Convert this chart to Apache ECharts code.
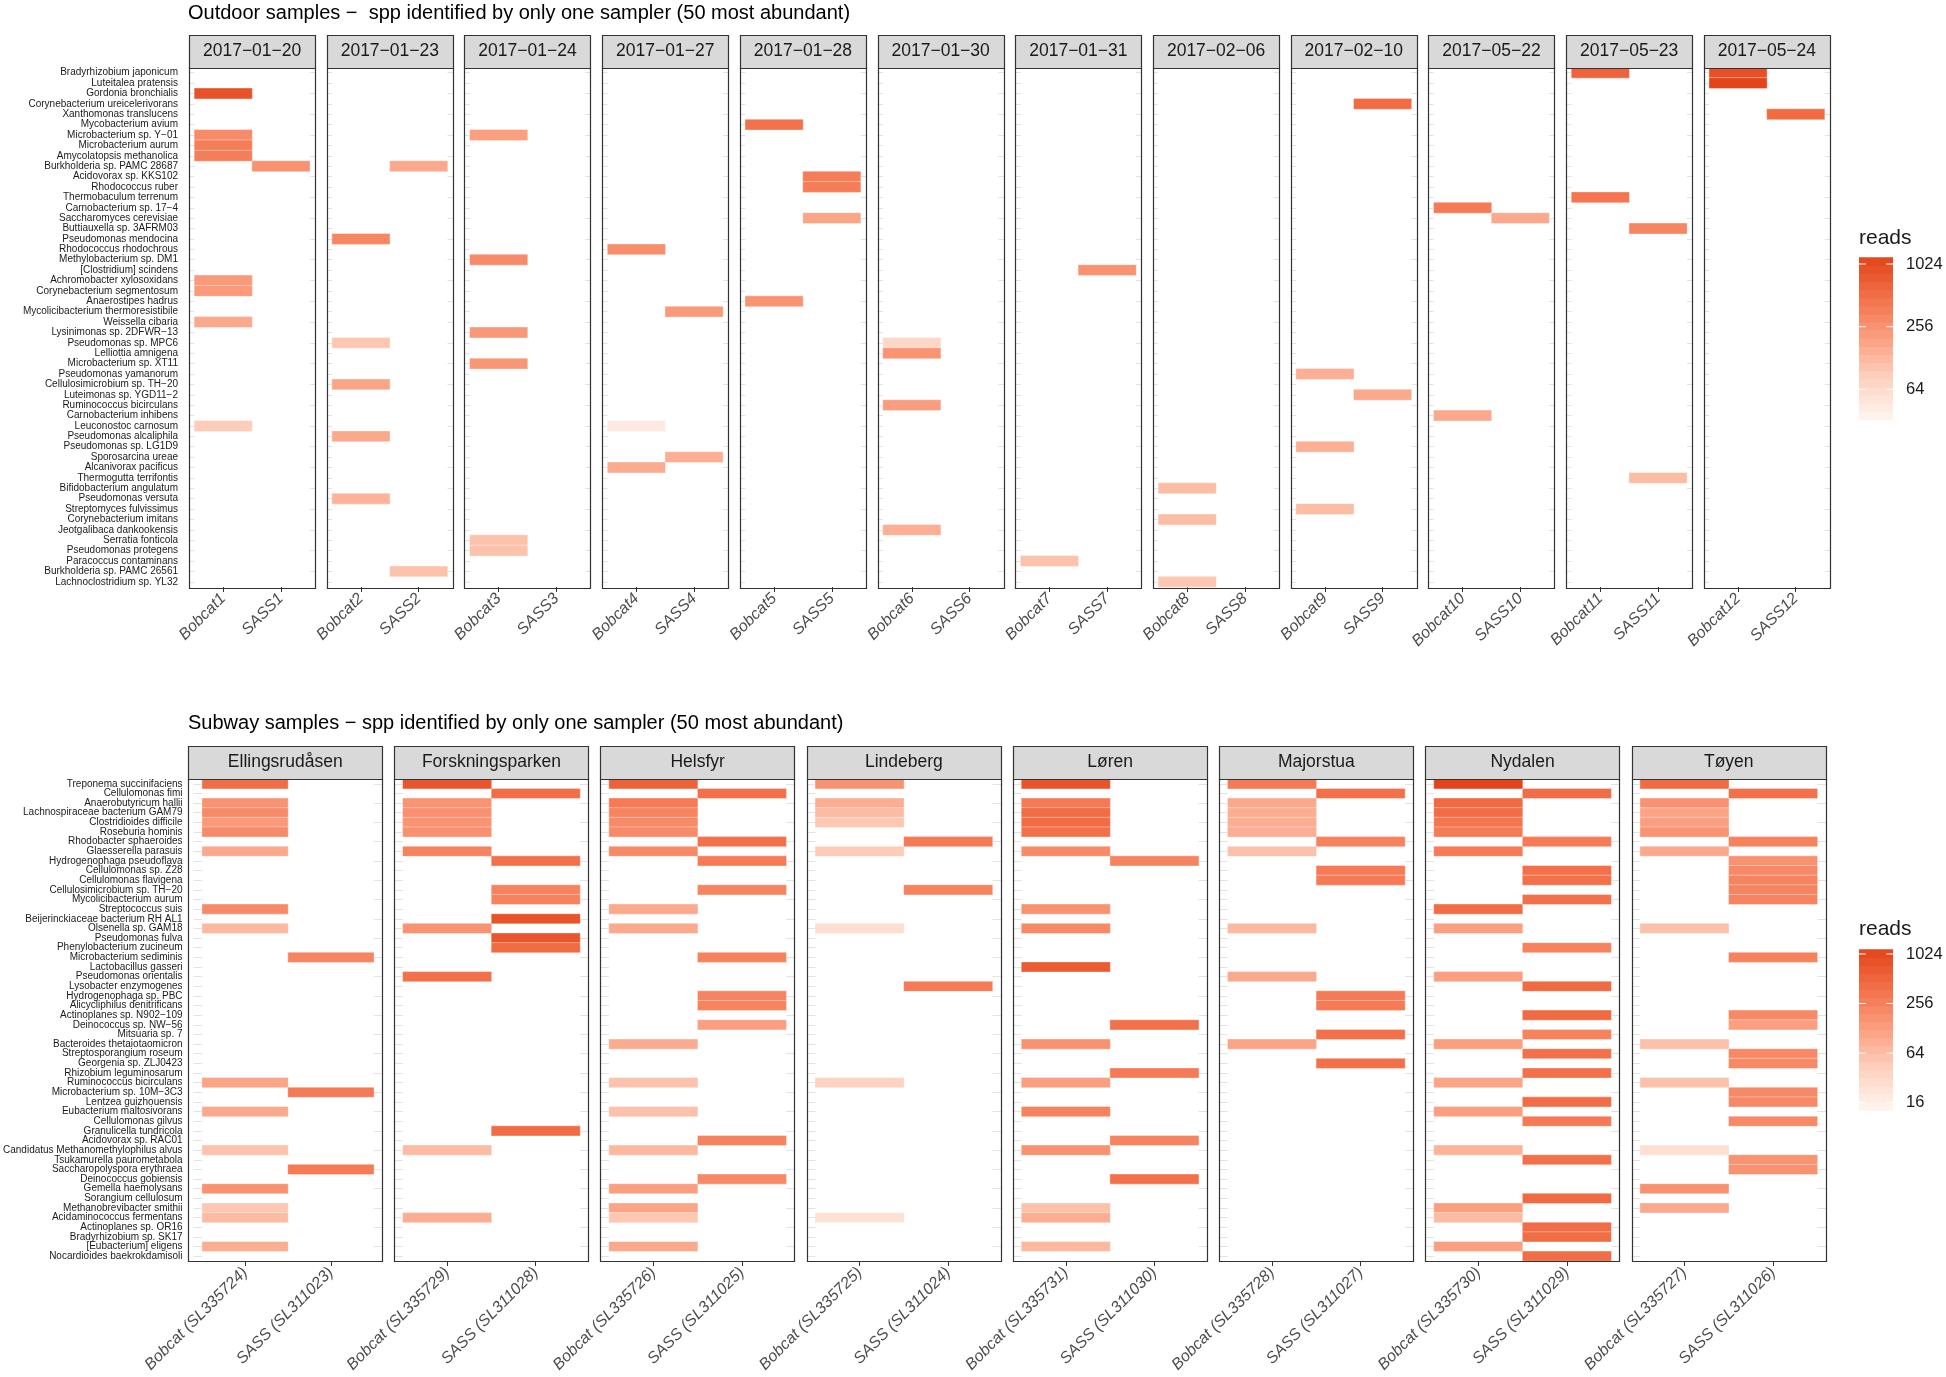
<!DOCTYPE html>
<html><head><meta charset="utf-8">
<script src="https://cdn.jsdelivr.net/npm/echarts@6/dist/echarts.min.js"></script>
<style>html,body{margin:0;padding:0;background:#fff}#c{width:1946px;height:1377px}</style>
</head><body><div id="c"></div>
<script>
// ---------------- DATA ----------------
const outdoorTitle = 'Outdoor samples \u2212  spp identified by only one sampler (50 most abundant)';
const subwayTitle = 'Subway samples \u2212 spp identified by only one sampler (50 most abundant)';

const outdoorSpecies = ['Bradyrhizobium japonicum','Luteitalea pratensis','Gordonia bronchialis','Corynebacterium ureicelerivorans','Xanthomonas translucens','Mycobacterium avium','Microbacterium sp. Y\u221201','Microbacterium aurum','Amycolatopsis methanolica','Burkholderia sp. PAMC 28687','Acidovorax sp. KKS102','Rhodococcus ruber','Thermobaculum terrenum','Carnobacterium sp. 17\u22124','Saccharomyces cerevisiae','Buttiauxella sp. 3AFRM03','Pseudomonas mendocina','Rhodococcus rhodochrous','Methylobacterium sp. DM1','[Clostridium] scindens','Achromobacter xylosoxidans','Corynebacterium segmentosum','Anaerostipes hadrus','Mycolicibacterium thermoresistibile','Weissella cibaria','Lysinimonas sp. 2DFWR\u221213','Pseudomonas sp. MPC6','Lelliottia amnigena','Microbacterium sp. XT11','Pseudomonas yamanorum','Cellulosimicrobium sp. TH\u221220','Luteimonas sp. YGD11\u22122','Ruminococcus bicirculans','Carnobacterium inhibens','Leuconostoc carnosum','Pseudomonas alcaliphila','Pseudomonas sp. LG1D9','Sporosarcina ureae','Alcanivorax pacificus','Thermogutta terrifontis','Bifidobacterium angulatum','Pseudomonas versuta','Streptomyces fulvissimus','Corynebacterium imitans','Jeotgalibaca dankookensis','Serratia fonticola','Pseudomonas protegens','Paracoccus contaminans','Burkholderia sp. PAMC 26561','Lachnoclostridium sp. YL32'];

const outdoorDates = ['2017\u221201\u221220','2017\u221201\u221223','2017\u221201\u221224','2017\u221201\u221227','2017\u221201\u221228','2017\u221201\u221230','2017\u221201\u221231','2017\u221202\u221206','2017\u221202\u221210','2017\u221205\u221222','2017\u221205\u221223','2017\u221205\u221224'];
const outdoorBobcatLabels = ['Bobcat1','Bobcat2','Bobcat3','Bobcat4','Bobcat5','Bobcat6','Bobcat7','Bobcat8','Bobcat9','Bobcat10','Bobcat11','Bobcat12'];
const outdoorSassLabels = ['SASS1','SASS2','SASS3','SASS4','SASS5','SASS6','SASS7','SASS8','SASS9','SASS10','SASS11','SASS12'];

const outdoorBobcatReads = [
  [['Gordonia bronchialis',900],['Microbacterium sp. Y\u221201',300],['Microbacterium aurum',380],['Amycolatopsis methanolica',380],['Achromobacter xylosoxidans',220],['Corynebacterium segmentosum',220],['Weissella cibaria',170],['Leuconostoc carnosum',90]],
  [['Pseudomonas mendocina',320],['Pseudomonas sp. MPC6',100],['Cellulosimicrobium sp. TH\u221220',180],['Pseudomonas alcaliphila',170],['Pseudomonas versuta',140]],
  [['Microbacterium sp. Y\u221201',200],['Methylobacterium sp. DM1',300],['Lysinimonas sp. 2DFWR\u221213',230],['Microbacterium sp. XT11',240],['Serratia fonticola',110],['Pseudomonas protegens',110]],
  [['Rhodococcus rhodochrous',280],['Leuconostoc carnosum',45],['Alcanivorax pacificus',160]],
  [['Mycobacterium avium',480],['Anaerostipes hadrus',250]],
  [['Pseudomonas sp. MPC6',70],['Lelliottia amnigena',250],['Ruminococcus bicirculans',210],['Jeotgalibaca dankookensis',150]],
  [['Paracoccus contaminans',110]],
  [['Bifidobacterium angulatum',120],['Corynebacterium imitans',120],['Lachnoclostridium sp. YL32',100]],
  [['Pseudomonas yamanorum',150],['Pseudomonas sp. LG1D9',150],['Streptomyces fulvissimus',120]],
  [['Carnobacterium sp. 17\u22124',400],['Carnobacterium inhibens',170]],
  [['Bradyrhizobium japonicum',650],['Thermobaculum terrenum',450]],
  [['Bradyrhizobium japonicum',950],['Luteitalea pratensis',1188]]
];
const outdoorSassReads = [
  [['Burkholderia sp. PAMC 28687',260]],
  [['Burkholderia sp. PAMC 28687',170],['Burkholderia sp. PAMC 26561',110]],
  [],
  [['Mycolicibacterium thermoresistibile',220],['Sporosarcina ureae',150]],
  [['Acidovorax sp. KKS102',380],['Rhodococcus ruber',380],['Saccharomyces cerevisiae',180]],
  [],
  [['[Clostridium] scindens',260]],
  [],
  [['Corynebacterium ureicelerivorans',550],['Luteimonas sp. YGD11\u22122',170]],
  [['Saccharomyces cerevisiae',170]],
  [['Buttiauxella sp. 3AFRM03',330],['Thermogutta terrifontis',120]],
  [['Xanthomonas translucens',550]]
];
const outdoorReadsRange = [33, 1188];
const outdoorLegendBreaks = [64, 256, 1024];

const subwaySpecies = ['Treponema succinifaciens','Cellulomonas fimi','Anaerobutyricum hallii','Lachnospiraceae bacterium GAM79','Clostridioides difficile','Roseburia hominis','Rhodobacter sphaeroides','Glaesserella parasuis','Hydrogenophaga pseudoflava','Cellulomonas sp. Z28','Cellulomonas flavigena','Cellulosimicrobium sp. TH\u221220','Mycolicibacterium aurum','Streptococcus suis','Beijerinckiaceae bacterium RH AL1','Olsenella sp. GAM18','Pseudomonas fulva','Phenylobacterium zucineum','Microbacterium sediminis','Lactobacillus gasseri','Pseudomonas orientalis','Lysobacter enzymogenes','Hydrogenophaga sp. PBC','Alicycliphilus denitrificans','Actinoplanes sp. N902\u2212109','Deinococcus sp. NW\u221256','Mitsuaria sp. 7','Bacteroides thetaiotaomicron','Streptosporangium roseum','Georgenia sp. ZLJ0423','Rhizobium leguminosarum','Ruminococcus bicirculans','Microbacterium sp. 10M\u22123C3','Lentzea guizhouensis','Eubacterium maltosivorans','Cellulomonas gilvus','Granulicella tundricola','Acidovorax sp. RAC01','Candidatus Methanomethylophilus alvus','Tsukamurella paurometabola','Saccharopolyspora erythraea','Deinococcus gobiensis','Gemella haemolysans','Sorangium cellulosum','Methanobrevibacter smithii','Acidaminococcus fermentans','Actinoplanes sp. OR16','Bradyrhizobium sp. SK17','[Eubacterium] eligens','Nocardioides baekrokdamisoli'];

const subwayStations = ['Ellingsrud\u00e5sen','Forskningsparken','Helsfyr','Lindeberg','L\u00f8ren','Majorstua','Nydalen','T\u00f8yen'];
const subwayBobcatLabels = ['Bobcat (SL335724)','Bobcat (SL335729)','Bobcat (SL335726)','Bobcat (SL335725)','Bobcat (SL335731)','Bobcat (SL335728)','Bobcat (SL335730)','Bobcat (SL335727)'];
const subwaySassLabels = ['SASS (SL311023)','SASS (SL311028)','SASS (SL311025)','SASS (SL311024)','SASS (SL311030)','SASS (SL311027)','SASS (SL311029)','SASS (SL311026)'];

const subwayBobcatReads = [
  [['Treponema succinifaciens',420],['Anaerobutyricum hallii',168],['Lachnospiraceae bacterium GAM79',208],['Clostridioides difficile',142],['Roseburia hominis',208],['Glaesserella parasuis',101],['Streptococcus suis',208],['Olsenella sp. GAM18',72],['Ruminococcus bicirculans',113],['Eubacterium maltosivorans',101],['Candidatus Methanomethylophilus alvus',58],['Gemella haemolysans',172],['Methanobrevibacter smithii',52],['Acidaminococcus fermentans',68],['[Eubacterium] eligens',90]],
  [['Treponema succinifaciens',765],['Anaerobutyricum hallii',170],['Lachnospiraceae bacterium GAM79',180],['Clostridioides difficile',170],['Roseburia hominis',180],['Glaesserella parasuis',250],['Olsenella sp. GAM18',168],['Pseudomonas orientalis',380],['Candidatus Methanomethylophilus alvus',68],['Acidaminococcus fermentans',90]],
  [['Treponema succinifaciens',560],['Anaerobutyricum hallii',300],['Lachnospiraceae bacterium GAM79',240],['Clostridioides difficile',210],['Roseburia hominis',210],['Glaesserella parasuis',210],['Streptococcus suis',100],['Olsenella sp. GAM18',100],['Bacteroides thetaiotaomicron',95],['Ruminococcus bicirculans',58],['Eubacterium maltosivorans',60],['Candidatus Methanomethylophilus alvus',72],['Gemella haemolysans',125],['Methanobrevibacter smithii',113],['Acidaminococcus fermentans',52],['[Eubacterium] eligens',100]],
  [['Treponema succinifaciens',172],['Anaerobutyricum hallii',90],['Lachnospiraceae bacterium GAM79',68],['Clostridioides difficile',52],['Glaesserella parasuis',48],['Olsenella sp. GAM18',28],['Ruminococcus bicirculans',40],['Acidaminococcus fermentans',25]],
  [['Treponema succinifaciens',820],['Anaerobutyricum hallii',300],['Lachnospiraceae bacterium GAM79',430],['Clostridioides difficile',430],['Roseburia hominis',380],['Glaesserella parasuis',210],['Streptococcus suis',172],['Olsenella sp. GAM18',215],['Lactobacillus gasseri',640],['Bacteroides thetaiotaomicron',172],['Ruminococcus bicirculans',125],['Eubacterium maltosivorans',253],['Candidatus Methanomethylophilus alvus',172],['Methanobrevibacter smithii',60],['Acidaminococcus fermentans',90],['[Eubacterium] eligens',72]],
  [['Treponema succinifaciens',300],['Anaerobutyricum hallii',100],['Lachnospiraceae bacterium GAM79',90],['Clostridioides difficile',90],['Roseburia hominis',90],['Glaesserella parasuis',60],['Olsenella sp. GAM18',72],['Pseudomonas orientalis',100],['Bacteroides thetaiotaomicron',113]],
  [['Treponema succinifaciens',1167],['Anaerobutyricum hallii',450],['Lachnospiraceae bacterium GAM79',420],['Clostridioides difficile',350],['Roseburia hominis',300],['Glaesserella parasuis',300],['Streptococcus suis',420],['Olsenella sp. GAM18',125],['Pseudomonas orientalis',125],['Bacteroides thetaiotaomicron',125],['Ruminococcus bicirculans',113],['Eubacterium maltosivorans',125],['Candidatus Methanomethylophilus alvus',80],['Methanobrevibacter smithii',125],['Acidaminococcus fermentans',68],['[Eubacterium] eligens',125]],
  [['Treponema succinifaciens',450],['Anaerobutyricum hallii',172],['Lachnospiraceae bacterium GAM79',113],['Clostridioides difficile',125],['Roseburia hominis',168],['Glaesserella parasuis',100],['Olsenella sp. GAM18',60],['Bacteroides thetaiotaomicron',60],['Ruminococcus bicirculans',60],['Candidatus Methanomethylophilus alvus',27],['Gemella haemolysans',172],['Methanobrevibacter smithii',100]]
];
const subwaySassReads = [
  [['Microbacterium sediminis',235],['Microbacterium sp. 10M\u22123C3',300],['Saccharopolyspora erythraea',300]],
  [['Cellulomonas fimi',410],['Hydrogenophaga pseudoflava',380],['Cellulosimicrobium sp. TH\u221220',253],['Mycolicibacterium aurum',253],['Beijerinckiaceae bacterium RH AL1',800],['Pseudomonas fulva',750],['Phenylobacterium zucineum',440],['Granulicella tundricola',430]],
  [['Cellulomonas fimi',380],['Rhodobacter sphaeroides',380],['Hydrogenophaga pseudoflava',300],['Cellulosimicrobium sp. TH\u221220',240],['Microbacterium sediminis',253],['Hydrogenophaga sp. PBC',240],['Alicycliphilus denitrificans',240],['Deinococcus sp. NW\u221256',125],['Acidovorax sp. RAC01',250],['Deinococcus gobiensis',215]],
  [['Rhodobacter sphaeroides',310],['Cellulosimicrobium sp. TH\u221220',253],['Lysobacter enzymogenes',300]],
  [['Hydrogenophaga pseudoflava',240],['Deinococcus sp. NW\u221256',380],['Rhizobium leguminosarum',300],['Acidovorax sp. RAC01',240],['Deinococcus gobiensis',380]],
  [['Cellulomonas fimi',380],['Rhodobacter sphaeroides',253],['Cellulomonas sp. Z28',300],['Cellulomonas flavigena',300],['Hydrogenophaga sp. PBC',300],['Alicycliphilus denitrificans',300],['Mitsuaria sp. 7',380],['Georgenia sp. ZLJ0423',380]],
  [['Cellulomonas fimi',420],['Rhodobacter sphaeroides',300],['Cellulomonas sp. Z28',380],['Cellulomonas flavigena',380],['Mycolicibacterium aurum',380],['Phenylobacterium zucineum',253],['Lysobacter enzymogenes',450],['Actinoplanes sp. N902\u2212109',450],['Mitsuaria sp. 7',253],['Streptosporangium roseum',380],['Rhizobium leguminosarum',380],['Lentzea guizhouensis',420],['Cellulomonas gilvus',300],['Tsukamurella paurometabola',380],['Sorangium cellulosum',450],['Actinoplanes sp. OR16',420],['Bradyrhizobium sp. SK17',420],['Nocardioides baekrokdamisoli',420]],
  [['Cellulomonas fimi',380],['Rhodobacter sphaeroides',253],['Hydrogenophaga pseudoflava',172],['Cellulomonas sp. Z28',215],['Cellulomonas flavigena',240],['Cellulosimicrobium sp. TH\u221220',240],['Mycolicibacterium aurum',240],['Microbacterium sediminis',253],['Actinoplanes sp. N902\u2212109',215],['Deinococcus sp. NW\u221256',125],['Streptosporangium roseum',215],['Georgenia sp. ZLJ0423',215],['Microbacterium sp. 10M\u22123C3',215],['Lentzea guizhouensis',215],['Cellulomonas gilvus',215],['Tsukamurella paurometabola',172],['Saccharopolyspora erythraea',172]]
];
const subwayReadsRange = [13, 1167];
const subwayLegendBreaks = [16, 64, 256, 1024];

// ---------------- STYLE / LAYOUT ----------------
const FONT = '"Liberation Sans", Arial, Helvetica, sans-serif';
const RAMP = ['#FFF5F0', '#FDD3C1', '#FBA081', '#F3714A', '#E3441A'];
const TOP = {left:189, right:1830, gap:11.5, plotTop:67.5, plotBottom:587, stripH:33, pad:5.4};
const BOT = {left:188, right:1826, gap:11.8, plotTop:779, plotBottom:1261, stripH:33, pad:8.6};

function hexRgb(h){return [1,3,5].map(i=>parseInt(h.slice(i,i+2),16));}
function colorAt(t){
  const s=Math.max(0,Math.min(1,t))*(RAMP.length-1), i=Math.min(RAMP.length-2,Math.floor(s)), f=s-i;
  const a=hexRgb(RAMP[i]), b=hexRgb(RAMP[i+1]);
  return '#'+a.map((v,j)=>Math.round(v+(b[j]-v)*f).toString(16).padStart(2,'0')).join('');
}
const rampColors=[];for(let i=0;i<=40;i++)rampColors.push(colorAt(i/40));

const grids=[],xAxes=[],yAxes=[],series=[],graphics=[];

function addBlock(L, facetTitles, species, bobLabels, sassLabels, bobcat, sass){
  const n=facetTitles.length;
  const w=(L.right-L.left-L.gap*(n-1))/n;
  const h=L.plotBottom-L.plotTop;
  facetTitles.forEach((title,i)=>{
    const k=grids.length;
    const x0=L.left+i*(w+L.gap);
    grids.push({left:x0+L.pad, top:L.plotTop, width:w-2*L.pad, height:h, show:false});
    xAxes.push({gridIndex:k,type:'category',data:[bobLabels[i],sassLabels[i]],position:'bottom',
      axisLine:{show:false},axisTick:{show:true,alignWithLabel:true,length:5,lineStyle:{color:'#333333',width:1}},
      axisLabel:{interval:0,rotate:45,fontStyle:'italic',fontSize:16,color:'#4D4D4D',margin:9,fontFamily:FONT},
      splitLine:{show:false}});
    const tickStyle={show:true,inside:true,length:L.pad,alignWithLabel:true,lineStyle:{color:'#E3E3E3',width:1}};
    yAxes.push({gridIndex:k,type:'category',data:species,inverse:true,position:'left',offset:L.pad,
      axisLine:{show:false},axisTick:tickStyle,splitLine:{show:false},
      axisLabel:{show:i===0,interval:0,fontSize:10,color:'#1A1A1A',margin:11,fontFamily:FONT}});
    yAxes.push({gridIndex:k,type:'category',data:species,inverse:true,position:'right',offset:L.pad,
      axisLine:{show:false},axisTick:tickStyle,splitLine:{show:false},axisLabel:{show:false}});
    const data=[];
    bobcat[i].forEach(([name,v])=>data.push([0,species.indexOf(name),Math.log2(v)]));
    sass[i].forEach(([name,v])=>data.push([1,species.indexOf(name),Math.log2(v)]));
    series.push({type:'heatmap',xAxisIndex:k,yAxisIndex:2*k,data,progressive:0,
      itemStyle:{borderColor:'rgba(255,255,255,0.45)',borderWidth:0.8},emphasis:{disabled:true}});
    const bx=Math.round(x0)+0.5, bw=Math.round(w);
    graphics.push({type:'rect',z:100,shape:{x:bx,y:Math.round(L.plotTop)+0.5,width:bw,height:Math.round(h)},
      style:{fill:'none',stroke:'#333333',lineWidth:1.2}});
    graphics.push({type:'rect',z:100,shape:{x:bx,y:Math.round(L.plotTop-L.stripH)+0.5,width:bw,height:Math.round(L.stripH)},
      style:{fill:'#D9D9D9',stroke:'#333333',lineWidth:1.2}});
    graphics.push({type:'text',z:101,style:{text:title,x:x0+w/2,y:L.plotTop-L.stripH/2,align:'center',verticalAlign:'middle',
      fontSize:17.5,fontFamily:FONT,fill:'#1A1A1A'}});
  });
}

function addLegend(cfg){
  const lmin=Math.log2(cfg.range[0]), lmax=Math.log2(cfg.range[1]);
  const H=cfg.bottom-cfg.top, nb=20, bh=H/nb;
  for(let b=0;b<nb;b++){
    graphics.push({type:'rect',z:100,shape:{x:cfg.x,y:cfg.bottom-(b+1)*bh,width:cfg.w,height:bh+0.6},
      style:{fill:colorAt((b+0.5)/nb),lineWidth:0}});
  }
  cfg.breaks.forEach(v=>{
    const y=cfg.bottom-(Math.log2(v)-lmin)/(lmax-lmin)*H;
    graphics.push({type:'line',z:101,shape:{x1:cfg.x,y1:y,x2:cfg.x+6.8,y2:y},style:{stroke:'#FFFFFF',lineWidth:1}});
    graphics.push({type:'line',z:101,shape:{x1:cfg.x+cfg.w-6.8,y1:y,x2:cfg.x+cfg.w,y2:y},style:{stroke:'#FFFFFF',lineWidth:1}});
    graphics.push({type:'text',z:101,style:{text:String(v),x:cfg.x+cfg.w+13,y:y,verticalAlign:'middle',
      fontSize:16.5,fontFamily:FONT,fill:'#1A1A1A'}});
  });
  graphics.push({type:'text',z:101,style:{text:'reads',x:cfg.x,y:cfg.titleY,verticalAlign:'middle',
    fontSize:21,fontFamily:FONT,fill:'#1A1A1A'}});
}

addBlock(TOP, outdoorDates, outdoorSpecies, outdoorBobcatLabels, outdoorSassLabels, outdoorBobcatReads, outdoorSassReads);
addBlock(BOT, subwayStations, subwaySpecies, subwayBobcatLabels, subwaySassLabels, subwayBobcatReads, subwaySassReads);
addLegend({x:1859,w:34,top:257.3,bottom:419.3,range:outdoorReadsRange,breaks:outdoorLegendBreaks,titleY:238});
addLegend({x:1859,w:34,top:949.3,bottom:1110,range:subwayReadsRange,breaks:subwayLegendBreaks,titleY:929});

const nTop=outdoorDates.length, nBot=subwayStations.length;
const option={
  animation:false,
  backgroundColor:'#FFFFFF',
  textStyle:{fontFamily:FONT},
  title:[
    {text:outdoorTitle,left:188,top:3,padding:0,textStyle:{fontSize:20,fontWeight:'normal',color:'#000000',fontFamily:FONT}},
    {text:subwayTitle,left:188,top:713,padding:0,textStyle:{fontSize:20,fontWeight:'normal',color:'#000000',fontFamily:FONT}}
  ],
  grid:grids, xAxis:xAxes, yAxis:yAxes,
  visualMap:[
    {type:'continuous',show:false,dimension:2,min:Math.log2(outdoorReadsRange[0]),max:Math.log2(outdoorReadsRange[1]),
     seriesIndex:Array.from({length:nTop},(_,i)=>i),inRange:{color:rampColors}},
    {type:'continuous',show:false,dimension:2,min:Math.log2(subwayReadsRange[0]),max:Math.log2(subwayReadsRange[1]),
     seriesIndex:Array.from({length:nBot},(_,i)=>nTop+i),inRange:{color:rampColors}}
  ],
  graphic:{elements:graphics},
  series:series
};
const chart=echarts.init(document.getElementById('c'),null,{renderer:'canvas'});
chart.setOption(option);
</script>
</body></html>
